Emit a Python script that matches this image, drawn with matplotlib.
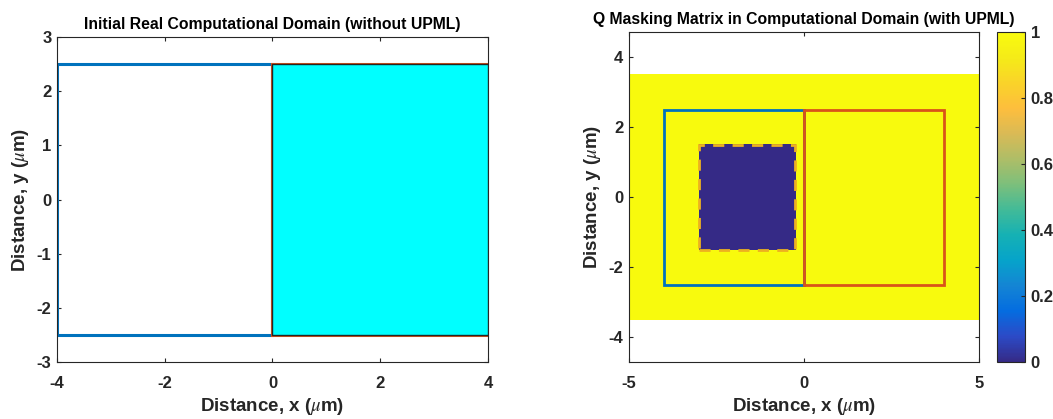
import numpy as np
import matplotlib
matplotlib.use("Agg")
import matplotlib.pyplot as plt
from matplotlib.patches import Rectangle
from matplotlib.colors import LinearSegmentedColormap

plt.rcParams['font.family'] = ['Liberation Sans', 'DejaVu Sans']
plt.rcParams['mathtext.fontset'] = 'stix'
plt.rcParams['axes.unicode_minus'] = False

# ---- data ----
left_xticks = [-4, -2, 0, 2, 4]
left_yticks = [-3, -2, -1, 0, 1, 2, 3]
right_xticks = [-5, 0, 5]
right_yticks = [-4, -2, 0, 2, 4]
cbar_ticks = [0, 0.2, 0.4, 0.6, 0.8, 1]
cbar_labels = ['0', '0.2', '0.4', '0.6', '0.8', '1']

region1 = (-4, -2.5, 4, 5)   # x, y, w, h (blue)
region2 = (0, -2.5, 4, 5)    # x, y, w, h (red / cyan)
upml_domain = (-5, 5, -3.5, 3.5)   # x0, x1, y0, y1 of Q matrix
hole = (-3, -0.25, -1.5, 1.5)      # x0, x1, y0, y1 where Q = 0
q_inside = 1.0
q_hole = 0.0

parula_anchors = [
    (0.2081, 0.1663, 0.5292), (0.1707, 0.2919, 0.7792), (0.0165, 0.4266, 0.8786),
    (0.0793, 0.5200, 0.8312), (0.0231, 0.6418, 0.7913), (0.0843, 0.6928, 0.7062),
    (0.2586, 0.7317, 0.5954), (0.4871, 0.7491, 0.4840), (0.6834, 0.7435, 0.4044),
    (0.8507, 0.7299, 0.3360), (0.9938, 0.7455, 0.2403), (0.9789, 0.8271, 0.1633),
    (0.9598, 0.9218, 0.0948), (0.9763, 0.9831, 0.0538)]
parula = LinearSegmentedColormap.from_list('parula', parula_anchors)

BLUE = '#0072BD'
RED = '#D95319'
GOLD = '#EDB120'
TXT = '#262626'
TICK_FS = 12
LABEL_FS = 13.5
TITLE_FS = 11.3

fig = plt.figure(figsize=(10.53, 4.19), dpi=100)

def style(ax):
    ax.tick_params(direction='in', top=True, right=True, length=3,
                   labelsize=TICK_FS, colors=TXT, width=0.8)
    ax.tick_params(axis='x', pad=10)
    ax.tick_params(axis='y', pad=4)
    for lab in ax.get_xticklabels() + ax.get_yticklabels():
        lab.set_fontweight('bold')
    for s in ax.spines.values():
        s.set_color('#262626')
        s.set_linewidth(0.8)

def labels(ax, title):
    ax.set_title(title, fontsize=TITLE_FS, fontweight='bold', color='black', pad=6)
    ax.set_xlabel(r'Distance, x ($\mu$m)', fontsize=LABEL_FS, fontweight='bold',
                  color=TXT, labelpad=4)
    ax.set_ylabel(r'Distance, y ($\mu$m)', fontsize=LABEL_FS, fontweight='bold',
                  color=TXT, labelpad=4)

# ---- left ----
ax1 = fig.add_axes([0.0541, 0.136, 0.4093, 0.7757])
ax1.add_patch(Rectangle(region1[:2], region1[2], region1[3], fill=False,
                        edgecolor=BLUE, lw=2.2, zorder=2))
ax1.add_patch(Rectangle(region2[:2], region2[2], region2[3], fill=False,
                        edgecolor=RED, lw=2.2, zorder=2))
ax1.add_patch(Rectangle(region2[:2], region2[2], region2[3], facecolor='cyan',
                        edgecolor='#262626', lw=1.0, zorder=3))
ax1.set_xlim(-4, 4)
ax1.set_ylim(-3, 3)
ax1.set_xticks(left_xticks)
ax1.set_yticks(left_yticks)
style(ax1)
labels(ax1, 'Initial Real Computational Domain (without UPML)')

# ---- right ----
ax2 = fig.add_axes([0.5973, 0.136, 0.3324, 0.7876])
nx, ny = 401, 281
xs = np.linspace(upml_domain[0], upml_domain[1], nx)
ys = np.linspace(upml_domain[2], upml_domain[3], ny)
X, Y = np.meshgrid(xs, ys)
Q = np.full(X.shape, q_inside)
Q[(X >= hole[0]) & (X <= hole[1]) & (Y >= hole[2]) & (Y <= hole[3])] = q_hole
im = ax2.imshow(Q, extent=upml_domain, origin='lower', cmap=parula,
                vmin=0, vmax=1, aspect='auto', interpolation='nearest', zorder=1)
ax2.add_patch(Rectangle(region1[:2], region1[2], region1[3], fill=False,
                        edgecolor=BLUE, lw=2.0, zorder=3))
ax2.add_patch(Rectangle(region2[:2], region2[2], region2[3], fill=False,
                        edgecolor=RED, lw=2.0, zorder=3))
ax2.add_patch(Rectangle((hole[0], hole[2]), hole[1] - hole[0], hole[3] - hole[2],
                        fill=False, edgecolor=GOLD, lw=2.0, ls=(0, (4, 3)), zorder=3))
ax2.set_xlim(-5, 5)
ax2.set_ylim(-4.714, 4.714)
ax2.set_xticks(right_xticks)
ax2.set_yticks(right_yticks)
style(ax2)
labels(ax2, 'Q Masking Matrix in Computational Domain (with UPML)')

cax = fig.add_axes([0.9468, 0.136, 0.0266, 0.7876])
cb = fig.colorbar(im, cax=cax, ticks=cbar_ticks)
cb.ax.set_yticklabels(cbar_labels)
cb.ax.tick_params(direction='in', length=3, labelsize=TICK_FS, colors=TXT, width=0.8, pad=4)
for lab in cb.ax.get_yticklabels():
    lab.set_fontweight('bold')
cb.outline.set_edgecolor('#262626')
cb.outline.set_linewidth(0.8)

fig.savefig('out.png', dpi=100)
